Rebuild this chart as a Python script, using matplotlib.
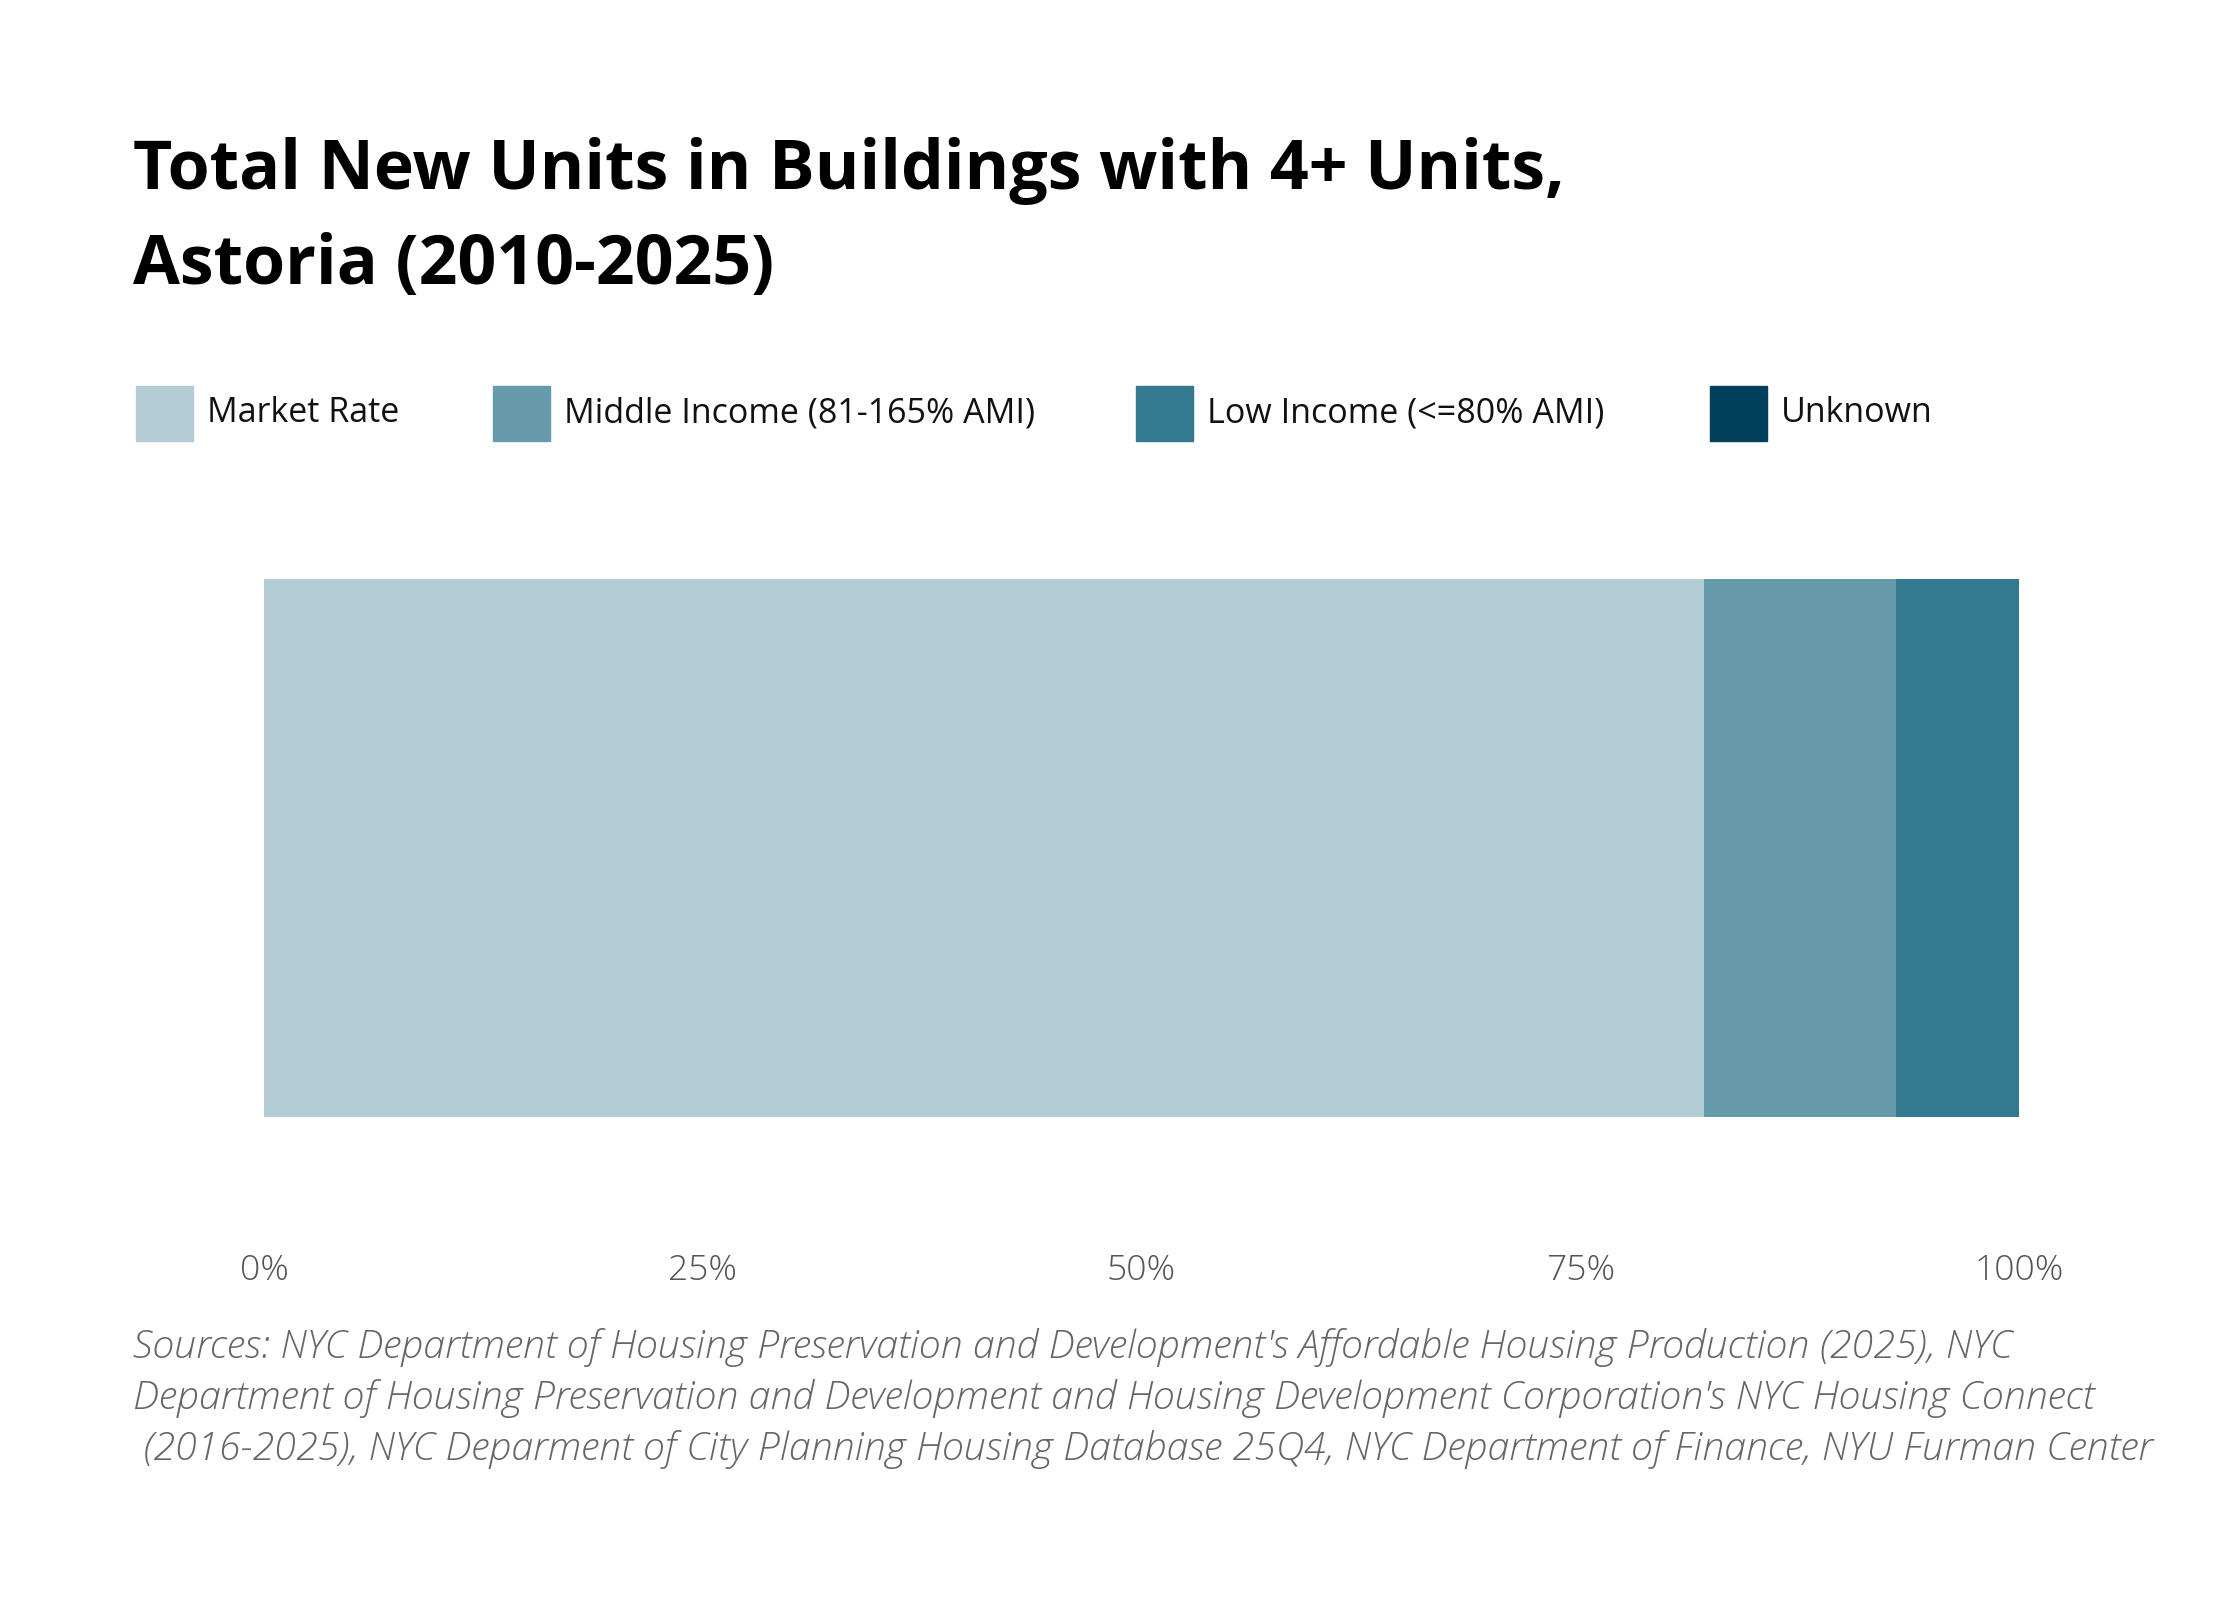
import matplotlib
matplotlib.use('Agg')
import matplotlib.pyplot as plt
from matplotlib.patches import Rectangle

plt.rcParams['font.family'] = ['Open Sans', 'DejaVu Sans']

categories = ['Market Rate', 'Middle Income (81-165% AMI)', 'Low Income (<=80% AMI)', 'Unknown']
shares = [82.05, 10.95, 7.0, 0.0]
colors = ['#b4ccd6', '#679bab', '#337a90', '#013f5a']
tick_values = [0, 25, 50, 75, 100]
tick_labels = ['0%', '25%', '50%', '75%', '100%']
title_lines = ['Total New Units in Buildings with 4+ Units,', 'Astoria (2010-2025)']
source_lines = [
    "Sources: NYC Department of Housing Preservation and Development's Affordable Housing Production (2025), NYC",
    "Department of Housing Preservation and Development and Housing Development Corporation's NYC Housing Connect",
    " (2016-2025), NYC Deparment of City Planning Housing Database 25Q4, NYC Department of Finance, NYU Furman Center",
]

fig = plt.figure(figsize=(22.4, 16), dpi=100)
W, H = 2240, 1600

ax = fig.add_axes([264 / W, 1 - 1117 / H, (2019 - 264) / W, (1117 - 579) / H])
left = 0
for cat, val, col in zip(categories, shares, colors):
    ax.barh(0, val, left=left, height=1.0, color=col, edgecolor='none')
    left += val

ax.set_xlim(0, 100)
ax.set_ylim(-0.5, 0.5)
ax.set_yticks([])
ax.set_xticks(tick_values)
ax.set_xticklabels(tick_labels, fontsize=25.5, color='#555555', fontweight='light')
ax.tick_params(axis='x', length=0, pad=98)
for s in ax.spines.values():
    s.set_visible(False)

# title
for line, yb in zip(title_lines, [189, 284]):
    fig.text(133 / W, 1 - yb / H, line, fontsize=49, fontweight='bold',
             va='baseline', ha='left', color='#000000')

# legend
sw_x = [136, 493, 1136, 1710]
for cat, col, x in zip(categories, colors, sw_x):
    fig.patches.append(Rectangle((x / W, 1 - 441 / H), 57 / W, 55 / H,
                                 transform=fig.transFigure, color=col))
    fig.text((x + 71) / W, 1 - 413 / H, cat, fontsize=24.5, va='center', ha='left',
             color='#111111')

# sources
for line, yb in zip(source_lines, [1358, 1409, 1460]):
    fig.text(133 / W, 1 - yb / H, line, fontsize=28.4, style='italic', fontweight='light',
             color='#666666', va='baseline', ha='left')

fig.savefig('out.png', dpi=100, facecolor='white')
